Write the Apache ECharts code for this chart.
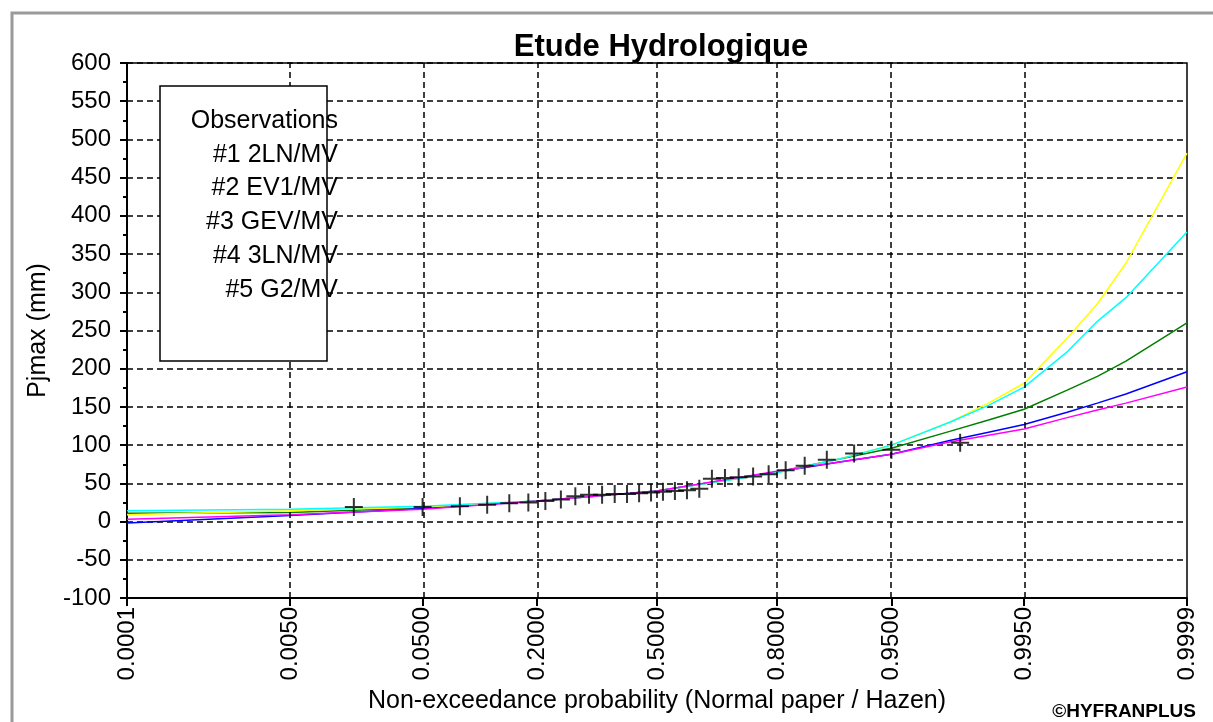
<!DOCTYPE html>
<html>
<head>
<meta charset="utf-8">
<script src="https://cdn.jsdelivr.net/npm/echarts@6/dist/echarts.min.js"></script>
<style>
  html, body { margin: 0; padding: 0; background: #ffffff; }
  #chart { width: 1213px; height: 722px; }
</style>
</head>
<body>
<div id="chart"></div>
<script>
// Probability-axis ticks (non-exceedance probability on normal paper)
var tickProbs  = [0.0001, 0.005, 0.05, 0.2, 0.5, 0.8, 0.95, 0.995, 0.9999];
var tickLabels = ['0.0001', '0.0050', '0.0500', '0.2000', '0.5000', '0.8000', '0.9500', '0.9950', '0.9999'];

// Observed annual maxima, with Hazen plotting positions
var obsProb = [0.0167, 0.0500, 0.0833, 0.1167, 0.1500, 0.1833, 0.2167, 0.2500, 0.2833, 0.3167,
               0.3500, 0.3833, 0.4167, 0.4500, 0.4833, 0.5167, 0.5500, 0.5833, 0.6167, 0.6500,
               0.6833, 0.7167, 0.7500, 0.7833, 0.8167, 0.8500, 0.8833, 0.9167, 0.9500, 0.9833];
var obsValue = [19, 19, 20, 22, 24, 25, 27, 29, 33, 35,
                35, 36, 36, 37, 38, 39, 40, 41, 43, 56,
                57, 58, 59, 62, 67, 73, 81, 89, 94, 103];

// Fitted quantile curves, evaluated at these probabilities
var fitProb = [0.0001, 0.005, 0.05, 0.2, 0.5, 0.8, 0.9, 0.95, 0.98, 0.99, 0.995, 0.998, 0.999, 0.9995, 0.9999];
var fit1 = [11, 12, 18, 27, 40, 65, 82, 96, 118, 133, 147, 172, 190, 210, 260];   // 2LN
var fit2 = [-2, 8, 17, 27, 40, 65, 78, 88, 106, 117, 127, 143, 155, 167, 196];    // EV1
var fit3 = [9, 14, 19, 27, 40, 64, 82, 100, 130, 155, 181, 240, 285, 338, 482];   // GEV
var fit4 = [14, 16, 20, 27, 40, 64, 82, 100, 130, 152, 176, 222, 262, 293, 379];  // 3LN
var fit5 = [3, 9, 16, 27, 40, 66, 78, 88, 104, 113, 121, 136, 146, 155, 176];     // G2

var legendLines = ['Observations', '#1 2LN/MV', '#2 EV1/MV', '#3 GEV/MV', '#4 3LN/MV', '#5 G2/MV'];

// Standard normal quantile (Acklam's rational approximation): maps a
// probability onto the linear scale of normal probability paper.
function probit(p) {
  var a = [-3.969683028665376e+01, 2.209460984245205e+02, -2.759285104469687e+02,
           1.383577518672690e+02, -3.066479806614716e+01, 2.506628277459239e+00];
  var b = [-5.447609879822406e+01, 1.615858368580409e+02, -1.556989798598866e+02,
           6.680131188771972e+01, -1.328068155288572e+01];
  var c = [-7.784894002430293e-03, -3.223964580411365e-01, -2.400758277161838e+00,
           -2.549732539343734e+00, 4.374664141464968e+00, 2.938163982698783e+00];
  var d = [7.784695709041462e-03, 3.224671290700398e-01, 2.445134137142996e+00,
           3.754408661907416e+00];
  var pl = 0.02425, q, r;
  if (p < pl) {
    q = Math.sqrt(-2 * Math.log(p));
    return (((((c[0]*q+c[1])*q+c[2])*q+c[3])*q+c[4])*q+c[5]) /
           ((((d[0]*q+d[1])*q+d[2])*q+d[3])*q+1);
  }
  if (p > 1 - pl) {
    q = Math.sqrt(-2 * Math.log(1 - p));
    return -(((((c[0]*q+c[1])*q+c[2])*q+c[3])*q+c[4])*q+c[5]) /
            ((((d[0]*q+d[1])*q+d[2])*q+d[3])*q+1);
  }
  q = p - 0.5; r = q * q;
  return (((((a[0]*r+a[1])*r+a[2])*r+a[3])*r+a[4])*r+a[5])*q /
         (((((b[0]*r+b[1])*r+b[2])*r+b[3])*r+b[4])*r+1);
}

function pairs(probs, values) {
  return probs.map(function (p, i) { return [probit(p), values[i]]; });
}

var tickZ = tickProbs.map(probit);
var zMin = tickZ[0], zMax = tickZ[tickZ.length - 1];

function tickLabelFor(z) {
  var best = 0, bd = Infinity;
  tickZ.forEach(function (t, i) { var dd = Math.abs(t - z); if (dd < bd) { bd = dd; best = i; } });
  return tickLabels[best];
}

var FONT = '"Liberation Sans", Arial, sans-serif';
var gridDash = { color: '#000', width: 1.5, type: [6, 4] };

var chart = echarts.init(document.getElementById('chart'), null, { renderer: 'canvas' });

function fitSeries(name, color, values, extra) {
  var s = {
    name: name, type: 'line', data: pairs(fitProb, values),
    showSymbol: false, smooth: false,
    lineStyle: { color: color, width: 1.5 }, itemStyle: { color: color },
    silent: true, animation: false, z: 3
  };
  if (extra) { for (var k in extra) s[k] = extra[k]; }
  return s;
}

var option = {
  backgroundColor: '#ffffff',
  animation: false,
  textStyle: { fontFamily: FONT },
  title: {
    text: 'Etude Hydrologique',
    left: 656, top: 27, textAlign: 'center',
    textStyle: { fontFamily: FONT, fontSize: 31, fontWeight: 'bold', color: '#000' }
  },
  grid: {
    left: 127, right: 26, top: 63, bottom: 124,
    show: true, borderColor: '#000', borderWidth: 1.5, backgroundColor: 'transparent'
  },
  xAxis: {
    type: 'value', min: zMin, max: zMax,
    name: 'Non-exceedance probability (Normal paper / Hazen)',
    nameLocation: 'middle', nameGap: 86,
    nameTextStyle: { fontFamily: FONT, fontSize: 25, color: '#000' },
    axisLine: { onZero: false, lineStyle: { color: '#000', width: 2 } },
    axisTick: { show: true, inside: false, length: 8, customValues: tickZ, lineStyle: { color: '#000', width: 2 } },
    axisLabel: {
      show: true, customValues: tickZ, rotate: 90, margin: 9,
      fontFamily: FONT, fontSize: 24, color: '#000',
      formatter: function (v) { return tickLabelFor(v); }
    },
    splitLine: { show: false }
  },
  yAxis: {
    type: 'value', min: -100, max: 600, interval: 50,
    name: 'Pjmax (mm)', nameLocation: 'middle', nameGap: 76, nameRotate: 90,
    nameTextStyle: { fontFamily: FONT, fontSize: 25, color: '#000' },
    axisLine: { show: true, onZero: false, lineStyle: { color: '#000', width: 2 } },
    axisTick: { show: true, inside: false, length: 7, lineStyle: { color: '#000', width: 2 } },
    minorTick: { show: true, splitNumber: 2, length: 4, lineStyle: { color: '#000', width: 2 } },
    axisLabel: { fontFamily: FONT, fontSize: 24, color: '#000', margin: 16 },
    splitLine: { show: true, lineStyle: gridDash }
  },
  series: [
    fitSeries('#1 2LN/MV', '#008000', fit1, {
      markLine: {
        silent: true, symbol: 'none', animation: false,
        label: { show: false },
        lineStyle: gridDash,
        data: tickZ.slice(1, -1).map(function (z) { return { xAxis: z }; })
      },
      z: 2
    }),
    fitSeries('#2 EV1/MV', '#0000ff', fit2),
    fitSeries('#3 GEV/MV', '#ffff00', fit3),
    fitSeries('#4 3LN/MV', '#00ffff', fit4),
    fitSeries('#5 G2/MV', '#ff00ff', fit5),
    {
      name: 'Observations', type: 'scatter', data: pairs(obsProb, obsValue),
      symbol: 'path://M10,0L10,20M0,10L20,10', symbolSize: 18,
      itemStyle: { color: 'rgba(0,0,0,0)', borderColor: '#000', borderWidth: 2 },
      silent: true, z: 5
    }
  ],
  graphic: [
    // outer window frame
    { type: 'rect', shape: { x: 12, y: 13, width: 1400, height: 900 }, silent: true,
      style: { fill: 'none', stroke: '#9a9a9a', lineWidth: 3 }, z: 100 },
    // legend box
    { type: 'rect', shape: { x: 160, y: 86, width: 167, height: 275 }, silent: true,
      style: { fill: '#fff', stroke: '#000', lineWidth: 1.5 }, z: 50 }
  ].concat(legendLines.map(function (t, i) {
    return {
      type: 'text', x: 338, y: 121 + i * 33.8, silent: true, z: 51,
      style: { text: t, align: 'right', verticalAlign: 'middle', fill: '#000',
               font: '25px ' + FONT }
    };
  })).concat([
    { type: 'text', right: 17, top: 702, silent: true, z: 51,
      style: { text: '©HYFRANPLUS', fill: '#000', font: 'bold 19px ' + FONT } }
  ])
};

chart.setOption(option);
</script>
</body>
</html>
